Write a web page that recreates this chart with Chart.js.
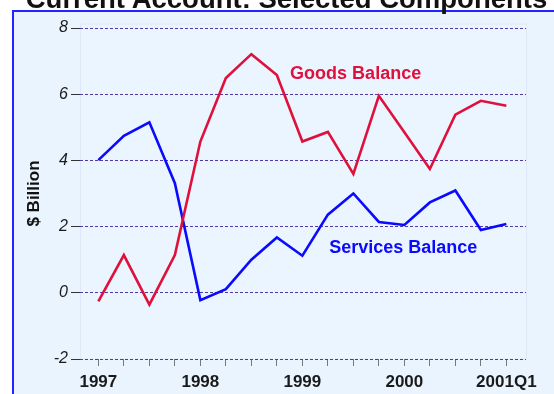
<!DOCTYPE html>
<html>
<head>
<meta charset="utf-8">
<script src="https://cdn.jsdelivr.net/npm/chart.js@4"></script>
<style>
  html, body { margin: 0; padding: 0; background: #ffffff; overflow: hidden; }
  #wrap { position: relative; width: 554px; height: 394px; }
  #frame { position: absolute; left: 12px; top: 10px; width: 600px; height: 450px;
           border: 2px solid #2424ff; background: #eaf4fe; }
  #title { position: absolute; left: 0; width: 573px; top: -17px; text-align: center; line-height: 1;
           font: bold 27.5px "Liberation Sans", Arial, sans-serif; color: #111; white-space: nowrap; }
  canvas { position: absolute; left: 0; top: 0; }
</style>
</head>
<body>
<div id="wrap">
  <div id="frame"></div>
  <canvas id="c" width="554" height="394"></canvas>
  <div id="title">Current Account: Selected Components</div>
</div>
<script>
// ---- data ----
const quarters = ['1997Q1','1997Q2','1997Q3','1997Q4','1998Q1','1998Q2','1998Q3','1998Q4',
                  '1999Q1','1999Q2','1999Q3','1999Q4','2000Q1','2000Q2','2000Q3','2000Q4','2001Q1'];
const tickLabels = ['1997','','','','1998','','','','1999','','','','2000','','','','2001Q1'];
const goodsBalance    = [-0.26, 1.14, -0.36, 1.14, 4.57, 6.49, 7.21, 6.58, 4.57, 4.86, 3.59, 5.95, 4.85, 3.74, 5.38, 5.80, 5.65];
const servicesBalance = [4.01, 4.74, 5.15, 3.31, -0.22, 0.11, 1.00, 1.67, 1.12, 2.36, 3.00, 2.14, 2.05, 2.73, 3.09, 1.90, 2.08];
const seriesNames = ['Goods Balance', 'Services Balance'];
const yTicks = [-2, 0, 2, 4, 6, 8];
const yTitle = '$ Billion';
// label anchor positions (quarter index, value)
const goodsLabelAt = [7.52, 6.6];
const servicesLabelAt = [9.05, 1.35];

const RED = '#e0103c';
const BLUE = '#0a0aff';
const FONT = '"Liberation Sans", Arial, sans-serif';

const toXY = arr => arr.map((v, i) => ({ x: i, y: v }));

const plotBg = {
  id: 'plotBg',
  beforeDraw(chart) {
    const { ctx, chartArea: a } = chart;
    ctx.save();
    ctx.fillStyle = '#ebf5ff';
    ctx.fillRect(a.left, a.top - 4, a.right - a.left, a.bottom - a.top + 4);
    ctx.strokeStyle = '#dde9f7';
    ctx.lineWidth = 1;
    ctx.strokeRect(a.left + 0.5, a.top - 4, a.right - a.left, a.bottom - a.top + 4);
    ctx.restore();
  }
};

const seriesLabels = {
  id: 'seriesLabels',
  afterDatasetsDraw(chart) {
    const { ctx, scales: { x, y } } = chart;
    ctx.save();
    ctx.font = 'bold 18px ' + FONT;
    ctx.textAlign = 'left';
    ctx.textBaseline = 'middle';
    ctx.fillStyle = RED;
    ctx.fillText(seriesNames[0], x.getPixelForValue(goodsLabelAt[0]), y.getPixelForValue(goodsLabelAt[1]));
    ctx.fillStyle = BLUE;
    ctx.fillText(seriesNames[1], x.getPixelForValue(servicesLabelAt[0]), y.getPixelForValue(servicesLabelAt[1]));
    ctx.restore();
  }
};

new Chart(document.getElementById('c'), {
  type: 'line',
  data: {
    datasets: [
      { label: seriesNames[0], data: toXY(goodsBalance), borderColor: RED, borderWidth: 2.6,
        pointRadius: 0, tension: 0, fill: false },
      { label: seriesNames[1], data: toXY(servicesBalance), borderColor: BLUE, borderWidth: 2.6,
        pointRadius: 0, tension: 0, fill: false }
    ]
  },
  options: {
    responsive: false,
    animation: false,
    events: [],
    layout: { padding: { left: 0, right: 28, top: 28, bottom: 0 } },
    plugins: { legend: { display: false }, title: { display: false }, tooltip: { enabled: false } },
    scales: {
      x: {
        type: 'linear',
        min: -0.72,
        max: 16.77,
        afterBuildTicks(scale) { scale.ticks = quarters.map((q, i) => ({ value: i })); },
        afterFit(scale) { scale.height = 35; },
        border: { display: false },
        grid: { display: true, drawOnChartArea: false, tickLength: 7, color: '#777777', lineWidth: 1 },
        ticks: {
          autoSkip: false, maxRotation: 0, padding: 6, color: '#1a1a1a',
          font: { family: FONT, size: 17, weight: 'bold' },
          callback: (v, i) => tickLabels[i]
        }
      },
      y: {
        min: -2,
        max: 8,
        afterBuildTicks(scale) { scale.ticks = yTicks.map(v => ({ value: v })); },
        afterFit(scale) { scale.width = 80; },
        border: { display: false, dash: [3, 2] },
        grid: { color: '#5238a4', lineWidth: 1, tickLength: 9,
                tickColor: '#333333', tickBorderDash: [] },
        ticks: {
          padding: 3, color: '#1a1a1a',
          font: { family: FONT, size: 16, style: 'italic' }
        },
        title: {
          display: true, text: yTitle, color: '#111',
          font: { family: FONT, size: 17, weight: 'bold' },
          padding: { top: 24, bottom: 0 }
        }
      }
    }
  },
  plugins: [plotBg, seriesLabels]
});
</script>
</body>
</html>
